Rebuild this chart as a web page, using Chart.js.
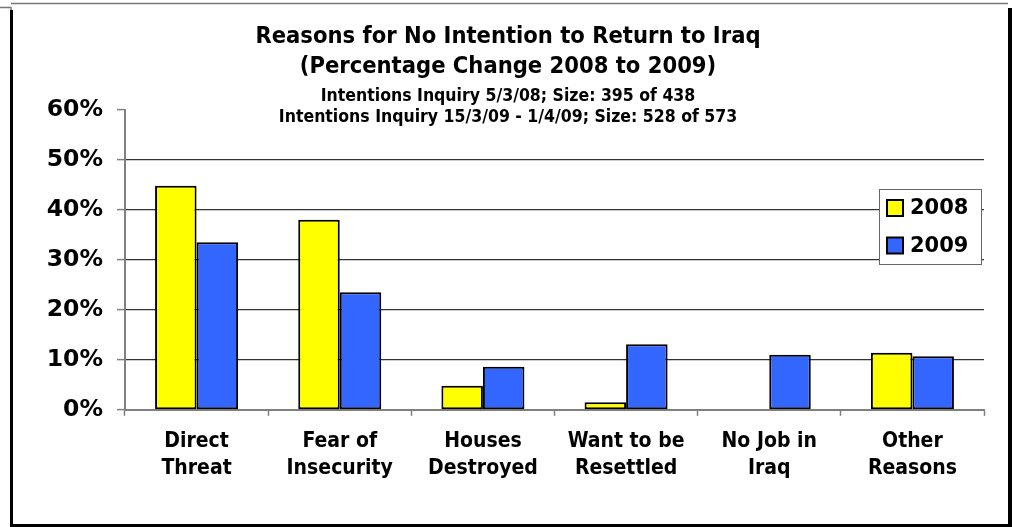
<!DOCTYPE html>
<html>
<head>
<meta charset="utf-8">
<script src="https://cdn.jsdelivr.net/npm/chart.js@4/dist/chart.umd.min.js"></script>
<style>
  body { margin: 0; background: #fff; }
  canvas { display: block; }
</style>
</head>
<body>
<canvas id="chart" width="1012" height="527"></canvas>
<script>
// Data
var categories = [['Direct', 'Threat'], ['Fear of', 'Insecurity'], ['Houses', 'Destroyed'],
  ['Want to be', 'Resettled'], ['No Job in', 'Iraq'], ['Other', 'Reasons']];
var seriesNames = ['2008', '2009'];
var values2008 = [44.8, 38.0, 4.8, 1.5, 0, 11.4];
var values2009 = [33.5, 23.5, 8.6, 13.1, 11.0, 10.7];
var yTicks = [0, 10, 20, 30, 40, 50, 60];

var narrow = "'DejaVu Sans Condensed', 'Liberation Sans Narrow', 'DejaVu Sans', sans-serif";
var wide = "'DejaVu Sans', Verdana, sans-serif";

// Frame round the picture
var framePlugin = {
  id: 'frame',
  beforeDraw: function(chart) {
    var c = chart.ctx;
    c.save();
    c.fillStyle = '#fff';
    c.fillRect(0, 0, chart.width, chart.height);
    c.strokeStyle = '#777';
    c.lineWidth = 1.5;
    c.beginPath();
    c.moveTo(0, 7.5); c.lineTo(11, 7.5); c.lineTo(11, 12);
    c.moveTo(11, 3.5); c.lineTo(1008, 3.5);
    c.stroke();
    c.fillStyle = '#000';
    c.fillRect(10, 10, 3, 517);
    c.fillRect(1008, 8, 4, 519);
    c.fillRect(10, 524, 1002, 3);
    c.restore();
  }
};

// Legend box inside the plot
var boxLegend = {
  id: 'boxLegend',
  afterDraw: function(chart) {
    var c = chart.ctx;
    var x = 879.5, y = 189.5, w = 102, h = 75;
    c.save();
    c.fillStyle = '#fff';
    c.fillRect(x, y, w, h);
    c.strokeStyle = '#666';
    c.lineWidth = 1;
    c.strokeRect(x, y, w, h);
    c.font = 'bold 21px ' + wide;
    c.textBaseline = 'middle';
    chart.data.datasets.forEach(function(ds, i) {
      var cy = 208 + i * 37.5;
      c.fillStyle = ds.backgroundColor;
      c.fillRect(887, cy - 8, 16, 16);
      c.strokeStyle = '#000';
      c.lineWidth = 2;
      c.strokeRect(887, cy - 8, 16, 16);
      c.fillStyle = '#000';
      c.fillText(ds.label, 910, cy + 1);
    });
    c.restore();
  }
};

new Chart(document.getElementById('chart'), {
  type: 'bar',
  data: {
    labels: categories,
    datasets: [
      {
        label: seriesNames[0],
        data: values2008,
        backgroundColor: '#FFFF00',
        borderColor: '#000',
        borderWidth: 2,
        borderSkipped: false
      },
      {
        label: seriesNames[1],
        data: values2009,
        backgroundColor: '#3366FF',
        borderColor: '#000',
        borderWidth: 2,
        borderSkipped: false
      }
    ]
  },
  options: {
    responsive: false,
    animation: false,
    devicePixelRatio: 1,
    layout: { padding: { left: 32, right: 28, top: 0, bottom: 33 } },
    datasets: { bar: { barPercentage: 1, categoryPercentage: 0.58 } },
    plugins: {
      legend: { display: false },
      tooltip: { enabled: false },
      title: {
        display: true,
        text: ['Reasons for No Intention to Return to Iraq', '(Percentage Change 2008 to 2009)'],
        color: '#000',
        font: { family: narrow, size: 23.5, weight: 'bold', lineHeight: 1.28 },
        padding: { top: 22, bottom: 0 }
      },
      subtitle: {
        display: true,
        text: ['Intentions Inquiry 5/3/08; Size: 395 of 438',
          'Intentions Inquiry 15/3/09 - 1/4/09; Size: 528 of 573'],
        color: '#000',
        font: { family: narrow, size: 17.5, weight: 'bold', lineHeight: 1.2 },
        padding: { top: 3.5, bottom: -18 }
      }
    },
    scales: {
      x: {
        grid: {
          offset: true,
          drawOnChartArea: false,
          tickLength: 6,
          tickColor: '#808080',
          tickWidth: 1.5
        },
        border: { color: '#808080', width: 2 },
        ticks: {
          color: '#000',
          font: { family: narrow, size: 21, weight: 'bold', lineHeight: 1.29 },
          padding: 12,
          maxRotation: 0,
          autoSkip: false
        }
      },
      y: {
        min: 0,
        max: 60,
        afterFit: function(scale) { scale.width = 93; },
        afterBuildTicks: function(scale) {
          scale.ticks = yTicks.map(function(v) { return { value: v }; });
        },
        grid: {
          color: function(ctx) {
            if (ctx.tick.value === 60) return 'rgba(0,0,0,0)';
            if (ctx.tick.value === 0) return '#808080';
            return '#333';
          },
          lineWidth: 1.2,
          tickLength: 8,
          tickColor: '#808080',
          tickWidth: 1.5
        },
        border: { color: '#808080', width: 2 },
        ticks: {
          color: '#000',
          font: { family: wide, size: 23.5, weight: 'bold' },
          padding: 14,
          callback: function(v) { return v + '%'; }
        }
      }
    }
  },
  plugins: [framePlugin, boxLegend]
});
</script>
</body>
</html>
